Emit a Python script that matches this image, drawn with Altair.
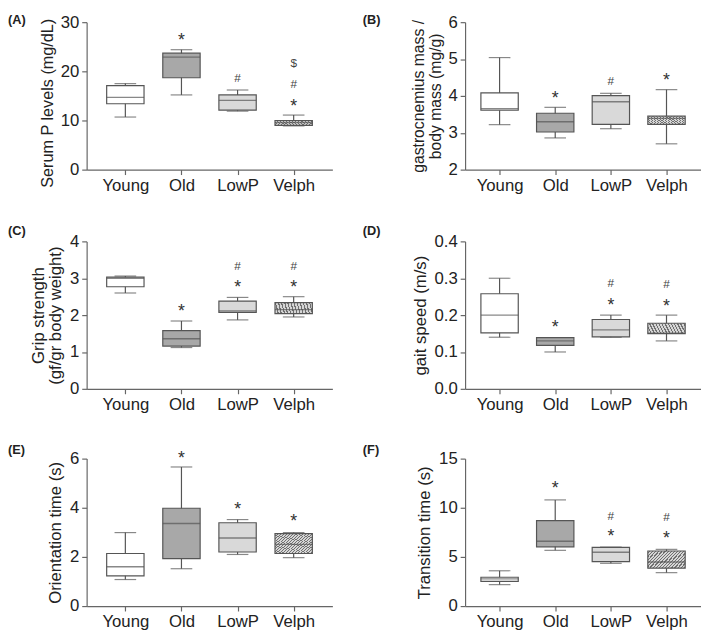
import altair as alt
import pandas as pd

# ---------------- data ----------------
groups = ["Young", "Old", "LowP", "Velph"]
box_colors = ["#ffffff", "#a8a8a8", "#d9d9d9"]  # Young, Old, LowP (Velph is hatched)

# (A) Serum P levels
a_lower = [10.7, 15.2, 11.9, 8.9]
a_q1 = [13.4, 18.7, 12.1, 9.0]
a_med = [14.7, 22.9, 14.1, 9.6]
a_q3 = [17.1, 23.7, 15.2, 10.0]
a_upper = [17.5, 24.4, 16.2, 11.1]
a_ann_group = ["Old", "LowP", "Velph", "Velph", "Velph"]
a_ann_sym = ["*", "#", "*", "#", "$"]
a_ann_val = [27.2, 18.6, 13.8, 17.5, 21.6]

# (B) gastrocnemius mass / body mass
b_lower = [3.22, 2.86, 3.11, 2.70]
b_q1 = [3.61, 3.02, 3.23, 3.23]
b_med = [3.65, 3.30, 3.84, 3.39]
b_q3 = [4.08, 3.53, 4.01, 3.45]
b_upper = [5.04, 3.69, 4.07, 4.17]
b_ann_group = ["Old", "LowP", "Velph"]
b_ann_sym = ["*", "#", "*"]
b_ann_val = [4.05, 4.40, 4.53]

# (C) Grip strength
c_lower = [2.60, 1.12, 1.87, 1.95]
c_q1 = [2.77, 1.16, 2.07, 2.04]
c_med = [3.00, 1.36, 2.11, 2.15]
c_q3 = [3.03, 1.58, 2.38, 2.34]
c_upper = [3.06, 1.84, 2.48, 2.50]
c_ann_group = ["Old", "LowP", "LowP", "Velph", "Velph"]
c_ann_sym = ["*", "*", "#", "*", "#"]
c_ann_val = [2.21, 2.86, 3.34, 2.86, 3.34]

# (D) gait speed
d_lower = [0.140, 0.100, 0.140, 0.130]
d_q1 = [0.152, 0.118, 0.141, 0.150]
d_med = [0.200, 0.130, 0.160, 0.151]
d_q3 = [0.258, 0.139, 0.188, 0.178]
d_upper = [0.300, 0.139, 0.200, 0.200]
d_ann_group = ["Old", "LowP", "LowP", "Velph", "Velph"]
d_ann_sym = ["*", "*", "#", "*", "#"]
d_ann_val = [0.178, 0.239, 0.287, 0.236, 0.285]

# (E) Orientation time
e_lower = [1.08, 1.52, 2.10, 1.97]
e_q1 = [1.23, 1.93, 2.20, 2.14]
e_med = [1.60, 3.36, 2.77, 2.51]
e_q3 = [2.14, 3.98, 3.39, 2.95]
e_upper = [2.99, 5.66, 3.52, 2.99]
e_ann_group = ["Old", "LowP", "Velph"]
e_ann_sym = ["*", "*", "*"]
e_ann_val = [6.2, 4.09, 3.6]

# (F) Transition time
f_lower = [2.18, 5.67, 4.35, 3.40]
f_q1 = [2.51, 6.03, 4.52, 3.86]
f_med = [2.77, 6.60, 5.47, 4.48]
f_q3 = [2.93, 8.70, 5.97, 5.60]
f_upper = [3.59, 10.8, 6.00, 5.77]
f_ann_group = ["Old", "LowP", "LowP", "Velph", "Velph"]
f_ann_sym = ["*", "*", "#", "*", "#"]
f_ann_val = [12.4, 7.5, 9.2, 7.3, 9.07]

# ---------------- style ----------------
FONT = "Liberation Sans"
H = 150
BOX_W = 38
CAP_W = 22
STROKE = "#555555"

# hatch as a striped linear gradient
N_STRIPES = 24
stops = []
for k in range(N_STRIPES):
    p0 = k / N_STRIPES
    p1 = (k + 0.38) / N_STRIPES
    p2 = (k + 1) / N_STRIPES
    stops += [
        alt.GradientStop(offset=round(p0, 5), color="#707070"),
        alt.GradientStop(offset=round(p1, 5), color="#707070"),
        alt.GradientStop(offset=round(p1, 5), color="#d6d6d6"),
        alt.GradientStop(offset=round(p2, 5), color="#d6d6d6"),
    ]
hatch = alt.LinearGradient(gradient="linear", stops=stops, x1=0, y1=1, x2=1, y2=0)


def panel(label, title, domain, ticks, fmt, lower, q1, med, q3, upper,
          ann_group, ann_sym, ann_val, label_dx, label_dy, width, pad,
          title_size=17, title_shift=0):
    df = pd.DataFrame({"group": groups, "lower": lower, "q1": q1, "med": med,
                       "q3": q3, "upper": upper})
    ann = pd.DataFrame({"group": ann_group, "sym": ann_sym, "val": ann_val})

    xenc = alt.X("group:N",
                 scale=alt.Scale(type="point", domain=groups, padding=pad),
                 axis=alt.Axis(title=None, labelAngle=0, labelPadding=3))

    axis_kw = dict(values=ticks, format=fmt, title=title, titleFontSize=title_size,
                   titlePadding=5, labelPadding=3)
    if title_shift:
        axis_kw["titleY"] = H / 2 + title_shift

    def yenc(field):
        return alt.Y(field, type="quantitative",
                     scale=alt.Scale(domain=domain, nice=False, zero=False),
                     axis=alt.Axis(**axis_kw))

    base = alt.Chart(df)
    whisker = base.mark_rule(color=STROKE, strokeWidth=1.2).encode(
        x=xenc, y=yenc("lower"), y2="upper")
    cap_lo = base.mark_tick(color=STROKE, size=CAP_W, thickness=1.2).encode(
        x=xenc, y=yenc("lower"))
    cap_hi = base.mark_tick(color=STROKE, size=CAP_W, thickness=1.2).encode(
        x=xenc, y=yenc("upper"))
    box = base.transform_filter(alt.datum.group != "Velph").mark_bar(
        size=BOX_W, stroke=STROKE, strokeWidth=1.2).encode(
        x=xenc, y=yenc("q1"), y2="q3",
        fill=alt.Fill("group:N", scale=alt.Scale(domain=groups[:3], range=box_colors),
                      legend=None))
    box_h = base.transform_filter(alt.datum.group == "Velph").mark_bar(
        size=BOX_W, stroke=STROKE, strokeWidth=1.2, fill=hatch).encode(
        x=xenc, y=yenc("q1"), y2="q3")
    median = base.mark_tick(color=STROKE, size=BOX_W, thickness=1.4).encode(
        x=xenc, y=yenc("med"))

    stars = alt.Chart(ann).transform_filter(alt.datum.sym == "*").mark_text(
        font=FONT, fontSize=18, color="#333333", baseline="middle", dy=5).encode(
        x=xenc, y=yenc("val"), text="sym:N")
    others = alt.Chart(ann).transform_filter(alt.datum.sym != "*").mark_text(
        font=FONT, fontSize=12, color="#444444", baseline="middle").encode(
        x=xenc, y=yenc("val"), text="sym:N")

    lab = alt.Chart(pd.DataFrame({"t": [label]})).mark_text(
        font=FONT, fontSize=13, fontWeight="bold", color="#222222",
        align="left", baseline="middle").encode(
        x=alt.value(label_dx), y=alt.value(label_dy), text="t:N")

    return alt.layer(whisker, cap_lo, cap_hi, box, box_h, median, stars, others, lab
                     ).properties(width=width, height=H)


W1, P1 = 250, 0.69
W2, P2 = 240, 0.62

pA = panel("(A)", "Serum P levels (mg/dL)", [0, 30], [0, 10, 20, 30], "d",
           a_lower, a_q1, a_med, a_q3, a_upper, a_ann_group, a_ann_sym, a_ann_val,
           -80, -2, W1, P1, title_size=16.5, title_shift=7)
pB = panel("(B)", ["gastrocnemius mass /", "body mass (mg/g)"], [2, 6], [2, 3, 4, 5, 6], "d",
           b_lower, b_q1, b_med, b_q3, b_upper, b_ann_group, b_ann_sym, b_ann_val,
           -104, -2, W2, P2, title_size=16)
pC = panel("(C)", ["Grip strength", "(gf/gr body weight)"], [0, 4], [0, 1, 2, 3, 4], "d",
           c_lower, c_q1, c_med, c_q3, c_upper, c_ann_group, c_ann_sym, c_ann_val,
           -80, -11, W1, P1)
pD = panel("(D)", "gait speed (m/s)", [0, 0.4], [0, 0.1, 0.2, 0.3, 0.4], ".1f",
           d_lower, d_q1, d_med, d_q3, d_upper, d_ann_group, d_ann_sym, d_ann_val,
           -104, -11, W2, P2)
pE = panel("(E)", "Orientation time (s)", [0, 6], [0, 2, 4, 6], "d",
           e_lower, e_q1, e_med, e_q3, e_upper, e_ann_group, e_ann_sym, e_ann_val,
           -80, -9, W1, P1)
pF = panel("(F)", "Transition time (s)", [0, 15], [0, 5, 10, 15], "d",
           f_lower, f_q1, f_med, f_q3, f_upper, f_ann_group, f_ann_sym, f_ann_val,
           -104, -9, W2, P2)

chart = alt.vconcat(
    alt.hconcat(pA, pB, spacing=31),
    alt.hconcat(pC, pD, spacing=31),
    alt.hconcat(pE, pF, spacing=31),
    spacing=32,
).properties(
    padding=0
).configure(font=FONT).configure_view(stroke=None).configure_axis(
    labelFont=FONT, labelFontSize=17, labelColor="#222222",
    titleFont=FONT, titleFontSize=17, titleFontWeight="normal", titleColor="#222222",
    titleLineHeight=17,
    domainColor="#666666", tickColor="#666666", domainWidth=1.2, tickWidth=1.2,
    tickSize=5, grid=False,
)

chart.save("out.html", embed_options={"renderer": "svg", "actions": False})
